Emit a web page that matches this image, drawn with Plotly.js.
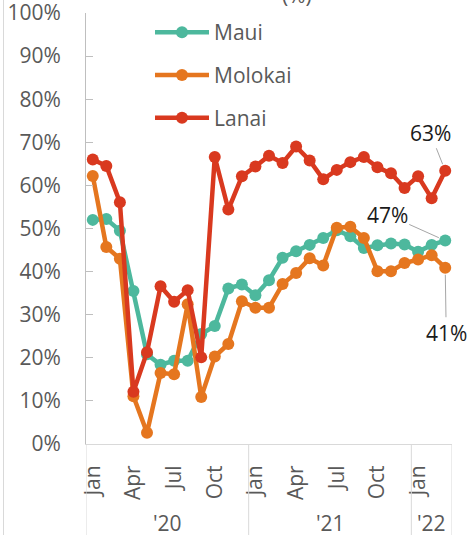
<!DOCTYPE html>
<html><head><meta charset="utf-8">
<script src="https://cdn.plot.ly/plotly-3.0.1.min.js"></script>
<style>html,body{margin:0;padding:0;background:#fff;}#chart{width:471px;height:535px;}</style>
</head><body><div id="chart"></div>
<script>
// ---- data ----
const monthNames = ['Jan','Feb','Mar','Apr','May','Jun','Jul','Aug','Sep','Oct','Nov','Dec'];
const years = ["'20", "'21", "'22"];
const monthsPerYear = [12, 12, 3];
const tickMonths = ['Jan','Apr','Jul','Oct'];
const yTicks = [0,10,20,30,40,50,60,70,80,90,100];
const seriesNames = ['Maui','Molokai','Lanai'];
const maui    = [52.0,52.2,49.5,35.5,20.8,18.4,19.3,19.3,25.5,27.4,36.1,37.0,34.5,38.0,43.2,44.7,46.2,47.8,49.6,48.2,45.5,46.1,46.5,46.3,44.6,46.2,47.2];
const molokai = [62.2,45.7,43.0,11.1,2.6,16.5,16.2,32.4,10.9,20.3,23.2,33.1,31.6,31.6,37.1,39.7,43.1,41.4,50.2,50.4,47.8,40.1,40.1,42.0,42.8,43.8,40.9];
const lanai   = [66.0,64.5,56.1,12.1,21.3,36.6,33.0,35.7,20.1,66.6,54.4,62.1,64.4,66.9,65.2,69.0,65.8,61.4,63.6,65.4,66.6,64.2,62.8,59.4,62.1,57.0,63.4];
const colors = ['#4DB89D','#E5761F','#D9391F'];

// ---- derived ----
const monthLabels = [];
years.forEach((y, k) => { for (let m = 0; m < monthsPerYear[k]; m++) monthLabels.push(monthNames[m]); });
const xIdx = monthLabels.map((_, i) => i);
const tickvals = xIdx.filter(i => tickMonths.includes(monthLabels[i]));
const ticktext = tickvals.map(i => monthLabels[i]);

const W = 471, H = 535, mL = 86, mR = 19, mT = 13, mB = 91;
const plotH = H - mT - mB, plotW = W - mL - mR;
const FONT = 'Open Sans, sans-serif';

const data = [maui, molokai, lanai].map((arr, k) => ({
  x: xIdx, y: arr.map(v => v / 100), name: seriesNames[k], type: 'scatter', mode: 'lines+markers',
  line: {color: colors[k], width: 4.5}, marker: {color: colors[k], size: 12},
  legendgroup: 'g' + k, hoverinfo: 'skip'
}));

const shapes = [];
const annotations = [];
let start = -0.5;
const bottomY = -mB / plotH;
shapes.push({type:'line', xref:'x', yref:'paper', x0:start, x1:start, y0:0, y1:bottomY, line:{color:'#d9d9d9', width:1}});
years.forEach((y, k) => {
  const end = start + monthsPerYear[k];
  shapes.push({type:'line', xref:'x', yref:'paper', x0:end, x1:end, y0:0, y1:bottomY, line:{color:'#d9d9d9', width:1}});
  annotations.push({xref:'x', yref:'paper', x:(start+end)/2, y:-(538-444)/plotH, text:y, showarrow:false,
    font:{family:FONT, size:21, color:'#595959'}, xanchor:'center', yanchor:'bottom', borderpad:0});
  start = end;
});
// left border of chart area
shapes.push({type:'line', xref:'paper', yref:'paper', x0:(3.5-mL)/plotW, x1:(3.5-mL)/plotW, y0:bottomY, y1:1+mT/plotH, line:{color:'#d9d9d9', width:1}});

// end labels
const last = xIdx.length - 1;
const endLabels = [
  {arr: lanai, ax: -15, ay: -38},
  {arr: maui, ax: -58, ay: -26},
  {arr: molokai, ax: 1, ay: 65}
];
endLabels.forEach(o => {
  annotations.push({xref:'x', yref:'y', x:last, y:o.arr[last]/100, text: Math.round(o.arr[last]) + '%',
    showarrow:true, arrowhead:0, arrowwidth:1, arrowcolor:'#a6a6a6', ax:o.ax, ay:o.ay, standoff:7,
    font:{family:FONT, size:21, color:'#1a1a1a'}});
});
// clipped chart title fragment
annotations.push({xref:'paper', yref:'paper', x:(297-mL)/plotW, y:1+(mT-10)/plotH, text:'(%)', showarrow:false,
  xanchor:'center', yanchor:'bottom', borderpad:0, font:{family:FONT, size:21, color:'#595959'}});

const layout = {
  width: W, height: H, margin: {l: mL, r: mR, t: mT, b: mB},
  paper_bgcolor: '#fff', plot_bgcolor: '#fff',
  font: {family: FONT, color: '#595959'},
  xaxis: {range: [-0.5, last + 0.5], tickmode: 'array', tickvals: tickvals, ticktext: ticktext,
    tickangle: -90, showgrid: false, zeroline: false, showline: true, linecolor: '#d9d9d9', linewidth: 1,
    ticks: '', tickfont: {family: FONT, size: 21, color: '#595959'}, ticklabelstandoff: 12, fixedrange: true},
  yaxis: {range: [0, 1], tickmode: 'array', tickvals: yTicks.map(v => v / 100), ticktext: yTicks.map(v => v + '%'),
    showgrid: false, zeroline: false, ticklabeloverflow: 'allow',
    showline: true, linecolor: '#bfbfbf', linewidth: 1, ticks: 'inside', ticklen: 7, tickcolor: '#bfbfbf',
    tickfont: {family: FONT, size: 21, color: '#595959'}, ticklabelstandoff: 20, fixedrange: true},
  showlegend: true,
  legend: {x: (150 - mL) / plotW, y: 1 - (12 - mT) / plotH, xanchor: 'left', yanchor: 'top',
    font: {family: FONT, size: 21, color: '#595959'}, tracegroupgap: 12.5, traceorder: 'grouped',
    bgcolor: 'rgba(0,0,0,0)', itemwidth: 54},
  shapes: shapes, annotations: annotations
};
Plotly.newPlot('chart', data, layout, {displayModeBar: false, staticPlot: true});
</script></body></html>
